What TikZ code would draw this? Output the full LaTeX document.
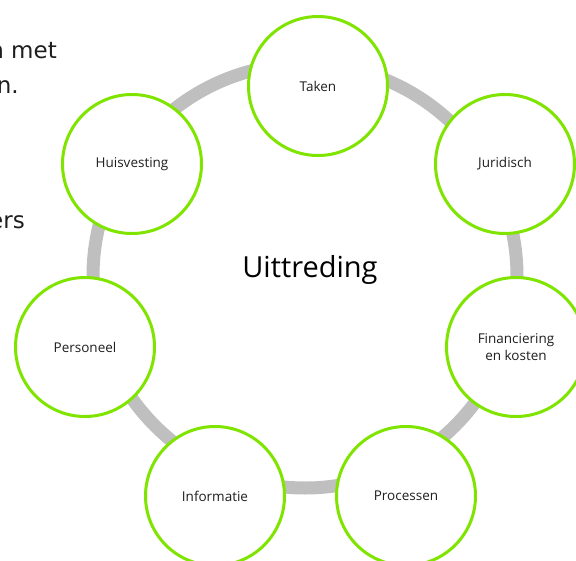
\documentclass[tikz,border=0pt]{standalone}
\usepackage{fontspec}
\setmainfont{Open Sans}
\newfontfamily\sidefont{DejaVu Sans}
\definecolor{ringgray}{RGB}{190,191,190}
\definecolor{lgreen}{RGB}{127,228,0}
\definecolor{txt}{RGB}{30,30,30}
\begin{document}
\begin{tikzpicture}[x=1pt,y=-1pt,
  item/.style={circle,draw=lgreen,line width=3pt,fill=white,minimum size=139pt,inner sep=0pt,
    align=center,text=txt,font=\fontsize{13.5}{17}\selectfont},
  ring/.style={draw=ringgray,line width=13pt},
  side/.style={anchor=base east,inner sep=0pt,text=txt,font=\sidefont\fontsize{23}{28}\selectfont}]
\useasboundingbox (0,0) rectangle (576,560);
\clip (0,0) rectangle (576,560);
\coordinate (c) at (305,276);
\draw[ring] (c) circle[radius=212pt];
\node[item] (taken) at (318,86) {Taken};
\node[item] (jur) at (505,164) {Juridisch};
\node[item] (fin) at (516,347) {Financiering\\en kosten};
\node[item] (proc) at (406,496) {Processen};
\node[item] (info) at (215,496) {Informatie};
\node[item] (pers) at (85,347) {Personeel};
\node[item] (huis) at (132,164) {Huisvesting};
\node[anchor=base,inner sep=0pt,font=\fontsize{29}{34}\selectfont] (title) at (310,277) {Uittreding};
\node[side] (t1) at (57,58) {n met};
\node[side] (t2) at (19,93) {n.};
\node[side] (t3) at (25,228) {ers};
\end{tikzpicture}
\end{document}
